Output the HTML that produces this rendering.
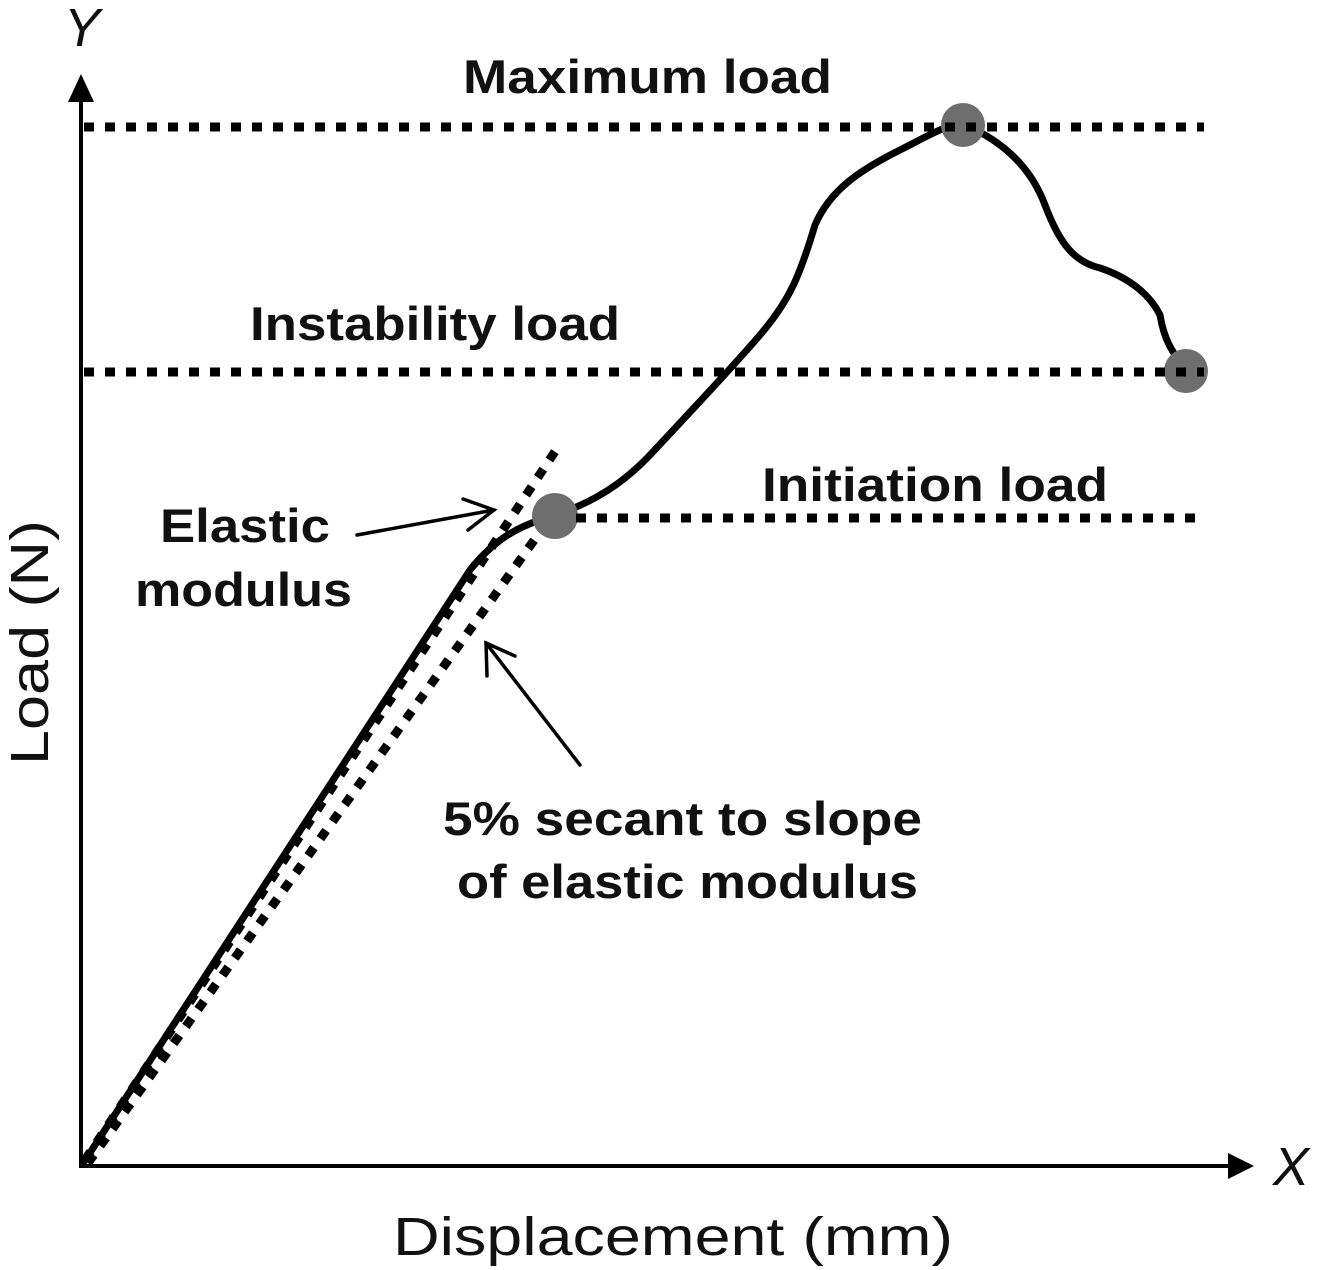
<!DOCTYPE html>
<html><head><style>
html,body{margin:0;padding:0;background:#fff;}
svg{display:block;}
.b{font-family:"Liberation Sans",sans-serif;font-weight:bold;font-size:47px;fill:#111;}
.n{font-family:"Liberation Sans",sans-serif;font-size:54px;fill:#111;}
</style></head><body>
<svg width="1325" height="1270" viewBox="0 0 1325 1270" xmlns="http://www.w3.org/2000/svg">
<line x1="81" y1="1168" x2="81" y2="98" stroke="#000" stroke-width="4"/>
<polygon points="81,74 68,102 94,102" fill="#000"/>
<line x1="79" y1="1166" x2="1230" y2="1166" stroke="#000" stroke-width="4"/>
<polygon points="1254,1166 1228,1153 1228,1179" fill="#000"/>
<text x="64" y="46" class="n" font-style="italic">Y</text>
<text x="1273" y="1185" class="n" font-style="italic">X</text>
<path d="M82,1165 L470,570 C490,545 510,530 540,520 C580,508 615,492 650,455 C690,412 730,370 760,335 C790,300 800,275 815,225 C830,190 860,170 900,150 C930,135 950,122 965,125 C1000,140 1030,165 1045,205 C1060,245 1075,262 1100,268 C1130,278 1150,295 1160,315 C1165,345 1175,355 1188,372" fill="none" stroke="#000" stroke-width="7" stroke-linejoin="round"/>
<circle cx="963" cy="125" r="22" fill="#6e6e6e"/>
<circle cx="1186" cy="371" r="22" fill="#6e6e6e"/>
<circle cx="555" cy="516" r="23" fill="#6e6e6e"/>
<g stroke="#000" stroke-width="9" stroke-dasharray="10 11" fill="none">
<line x1="84" y1="127" x2="1204" y2="127"/>
<line x1="84" y1="372" x2="1204" y2="372"/>
<line x1="576" y1="518" x2="1204" y2="518"/>
<line x1="85" y1="1160" x2="560" y2="444"/>
<line x1="88" y1="1163" x2="540" y2="532"/>
</g>
<g stroke="#000" stroke-width="3.5" fill="none" stroke-linecap="round">
<line x1="357" y1="535" x2="494" y2="510"/>
<polyline points="463,499 494,510 468,530"/>
<line x1="580" y1="765" x2="486" y2="643"/>
<polyline points="487,676 486,643 515,656"/>
</g>
<text x="463" y="93" class="b" textLength="369" lengthAdjust="spacingAndGlyphs">Maximum load</text>
<text x="250" y="340" class="b" textLength="370" lengthAdjust="spacingAndGlyphs">Instability load</text>
<text x="762" y="501" class="b" textLength="346" lengthAdjust="spacingAndGlyphs">Initiation load</text>
<text x="160" y="542" class="b" textLength="170" lengthAdjust="spacingAndGlyphs">Elastic</text>
<text x="135" y="606" class="b" textLength="217" lengthAdjust="spacingAndGlyphs">modulus</text>
<text x="443" y="835" class="b" textLength="479" lengthAdjust="spacingAndGlyphs">5% secant to slope</text>
<text x="457" y="898" class="b" textLength="461" lengthAdjust="spacingAndGlyphs">of elastic modulus</text>
<text x="393" y="1255" class="n" textLength="560" lengthAdjust="spacingAndGlyphs">Displacement (mm)</text>
<text transform="translate(48,765) rotate(-90)" class="n" textLength="245" lengthAdjust="spacingAndGlyphs">Load (N)</text>
</svg>
</body></html>
